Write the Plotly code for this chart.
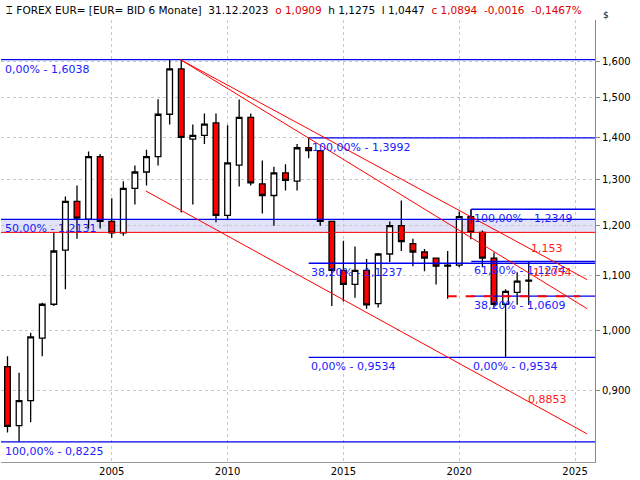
import plotly.graph_objects as go
import math

# half-year candles 2001 H1 .. 2023 H2
opens  = [0.938,0.846,0.884,0.986,1.046,1.150,1.252,1.214,1.354,1.209,1.185,1.281,1.318,1.354,1.458,1.578,
          1.396,1.405,1.436,1.222,1.334,1.450,1.291,1.265,1.316,1.297,1.375,1.368,1.209,1.110,1.083,1.110,
          1.047,1.142,1.200,1.163,1.146,1.134,1.120,1.120,1.219,1.186,1.134,1.046,1.068,1.0909]
highs  = [0.955,0.928,0.995,1.049,1.185,1.263,1.287,1.366,1.360,1.259,1.297,1.333,1.370,1.497,1.6038,1.6038,
          1.432,1.460,1.460,1.430,1.496,1.460,1.345,1.330,1.336,1.384,1.3992,1.370,1.209,1.169,1.157,1.132,
          1.144,1.209,1.254,1.173,1.152,1.134,1.148,1.230,1.2349,1.190,1.145,1.074,1.106,1.1275]
lows   = [0.836,0.8225,0.851,0.955,1.043,1.074,1.173,1.194,1.194,1.175,1.179,1.245,1.287,1.333,1.432,1.228,
          1.245,1.384,1.207,1.214,1.285,1.287,1.226,1.200,1.276,1.276,1.350,1.200,1.043,1.051,1.058,1.038,
          1.040,1.126,1.148,1.118,1.108,1.083,1.056,1.116,1.172,1.116,1.040,0.9534,1.045,1.0447]
closes = [0.845,0.884,0.988,1.046,1.148,1.252,1.216,1.354,1.209,1.185,1.281,1.318,1.354,1.458,1.578,1.400,
          1.405,1.433,1.222,1.339,1.450,1.293,1.265,1.316,1.299,1.375,1.368,1.209,1.110,1.083,1.110,1.045,
          1.142,1.200,1.167,1.146,1.134,1.118,1.118,1.219,1.186,1.134,1.046,1.070,1.089,1.0894]
xpos = [2000.5 + 0.5 * i for i in range(len(opens))]

year_ticks = [2005, 2010, 2015, 2020, 2025]
price_ticks = [0.9, 1.0, 1.1, 1.2, 1.3, 1.4, 1.5, 1.6]
price_labels = ["0,900", "1,000", "1,100", "1,200", "1,300", "1,400", "1,500", "1,600"]

XMIN, XMAX = 2000.22, 2025.86
# fib levels: (value, start x, label, label x)
fib_levels = [(1.6038, XMIN, "0,00% - 1,6038", 2000.3),
              (1.2131, XMIN, "50,00% - 1,2131", 2000.3),
              (0.8225, XMIN, "100,00% - 0,8225", 2000.3),
              (1.3992, 2013.5, "100,00% - 1,3992", 2013.55),
              (1.1237, 2013.5, "38,20% - 1,1237", 2013.5),
              (0.9534, 2013.5, "0,00% - 0,9534", 2013.5),
              (1.2349, 2020.52, "100,00% - 1,2349", 2020.55),
              (1.1274, 2020.52, "61,80% - 1,1274", 2020.55),
              (1.0609, 2020.52, "38,20% - 1,0609", 2020.55)]
extra_labels = [(2020.5, 0.9534, "0,00% - 0,9534")]
band_top, band_bot = 1.2131, 1.186
# red trend lines: (x0, y0, x1, y1)
trend_lines = [(2007.97, 1.6038, 2025.52, 1.092),
               (2007.97, 1.6038, 2025.52, 1.038),
               (2006.47, 1.275, 2025.52, 0.834)]
dash_line = (2019.5, 1.0609, 2025.2, 1.0609)
red_labels = [(2023.0, 1.153, "1,153"), (2023.1, 1.1054, "1,1054"), (2022.9, 0.8853, "0,8853")]

fig = go.Figure()
fig.add_trace(go.Candlestick(x=xpos, open=opens, high=highs, low=lows, close=closes,
    increasing=dict(fillcolor="white", line=dict(color="black", width=1.3)),
    decreasing=dict(fillcolor="#ff0000", line=dict(color="black", width=1.3)),
    whiskerwidth=0, showlegend=False, hoverinfo="skip"))

shapes = []
shapes.append(dict(type="rect", xref="x", yref="y", x0=XMIN, x1=XMAX, y0=band_bot, y1=band_top,
                   fillcolor="#e2e2f8", line=dict(width=0), layer="below"))
shapes.append(dict(type="line", xref="x", yref="y", x0=XMIN, x1=XMAX, y0=band_bot, y1=band_bot,
                   line=dict(color="red", width=1)))
for v, x0, _, _ in fib_levels:
    shapes.append(dict(type="line", xref="x", yref="y", x0=x0, x1=XMAX, y0=v, y1=v,
                       line=dict(color="#0000ee", width=1.3)))
for x0, y0, x1, y1 in trend_lines:
    shapes.append(dict(type="line", xref="x", yref="y", x0=x0, x1=x1, y0=y0, y1=y1,
                       line=dict(color="red", width=1)))
shapes.append(dict(type="line", xref="x", yref="y", x0=dash_line[0], x1=dash_line[2],
                   y0=dash_line[1], y1=dash_line[3], line=dict(color="red", width=2, dash="dash")))
shapes.append(dict(type="line", xref="x", yref="y", x0=2020.52, x1=2020.52, y0=1.2349, y1=1.205,
                   line=dict(color="#0000ee", width=1)))

ann = []
for v, _, lab, lx in fib_levels:
    ann.append(dict(x=lx, y=math.log10(v), xref="x", yref="y", text=lab, showarrow=False,
                    xanchor="left", yanchor="top", yshift=-1,
                    font=dict(color="#2020ff", size=11, family="DejaVu Sans")))
for lx, v, lab in extra_labels:
    ann.append(dict(x=lx, y=math.log10(v), xref="x", yref="y", text=lab, showarrow=False,
                    xanchor="left", yanchor="top", yshift=-1,
                    font=dict(color="#2020ff", size=11, family="DejaVu Sans")))
for lx, v, lab in red_labels:
    ann.append(dict(x=lx, y=math.log10(v), xref="x", yref="y", text=lab, showarrow=False,
                    xanchor="left", yanchor="middle",
                    font=dict(color="#ff2020", size=11, family="DejaVu Sans")))
header = ("FOREX EUR= [EUR= BID 6 Monate]  31.12.2023  <span style='color:#e00000'>o 1,0909</span>  "
          "h 1,1275  l 1,0447  <span style='color:#e00000'>c 1,0894  -0,0016  -0,1467%</span>")
ann.append(dict(x=0.005, y=1, xref="paper", yref="paper", text="⌶ " + header, showarrow=False,
                xanchor="left", yanchor="bottom", yshift=2,
                font=dict(color="black", size=10.5, family="DejaVu Sans")))
ann.append(dict(x=1, y=1, xref="paper", yref="paper", text="$", showarrow=False,
                xanchor="left", yanchor="top", xshift=6, yshift=12,
                font=dict(color="black", size=9, family="DejaVu Sans")))

fig.update_layout(
    width=640, height=480, margin=dict(l=1, r=45, t=20, b=18),
    paper_bgcolor="white", plot_bgcolor="white", shapes=shapes, annotations=ann,
    font=dict(family="DejaVu Sans", size=10, color="black"),
    xaxis=dict(range=[XMIN, XMAX], tickvals=year_ticks, ticktext=[str(y) for y in year_ticks],
               rangeslider=dict(visible=False), showgrid=True, gridcolor="#c8c8c8", griddash="dot",
               showline=True, linecolor="#999", mirror=False, ticks="", zeroline=False),
    yaxis=dict(type="log", side="right", range=[math.log10(0.794), math.log10(1.719)],
               tickvals=price_ticks, ticktext=price_labels, showgrid=True, gridcolor="#c8c8c8",
               griddash="dot", showline=True, linecolor="#888", ticks="outside", ticklen=4,
               tickcolor="#888", zeroline=False),
)
fig.write_html("out.html", config={"displayModeBar": False})
with open("out.html", encoding="utf-8") as f:
    html = f.read()
html = html.replace("<body>", "<body style=\"margin:0;overflow:hidden\">", 1)
with open("out.html", "w", encoding="utf-8") as f:
    f.write(html)
